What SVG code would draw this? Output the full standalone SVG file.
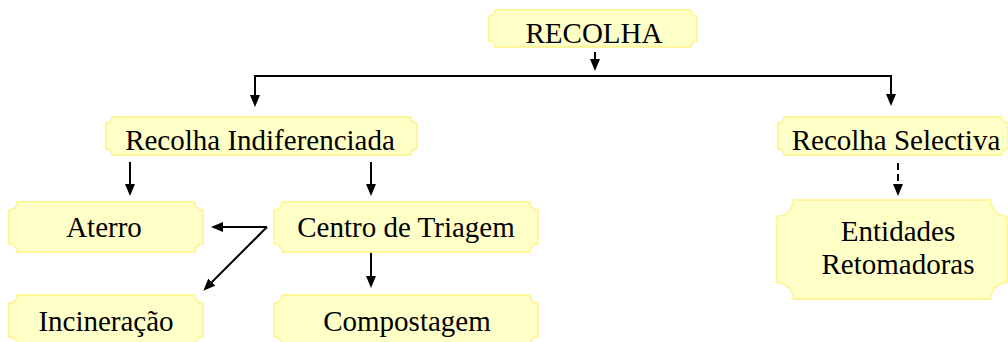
<svg xmlns="http://www.w3.org/2000/svg" width="1008" height="342" viewBox="0 0 1008 342">
<style>
.box{fill:#FFFFC8;stroke:#FFF59A;stroke-width:2}
.t{font-family:"Liberation Serif","Times New Roman","DejaVu Serif",serif;font-size:29px;fill:#000;text-anchor:middle}
.c{fill:none;stroke:#000;stroke-width:2}
</style>
<defs>
<marker id="ah" markerUnits="userSpaceOnUse" markerWidth="12" markerHeight="10" refX="4" refY="5" orient="auto" viewBox="0 0 12 10">
<path d="M0,0 L12,5 L0,10 z" fill="#000"/>
</marker>
</defs>
<rect width="1008" height="342" fill="#fff"/>
<g id="n-recolha">
<path class="box" d="M495.2,10 H690.8 A6.2,6.2 0 0 0 697,16.2 V40.8 A6.2,6.2 0 0 0 690.8,47 H495.2 A6.2,6.2 0 0 0 489,40.8 V16.2 A6.2,6.2 0 0 0 495.2,10 Z"/>
<text class="t" x="594" y="43">RECOLHA</text>
</g>
<g id="n-indif">
<path class="box" d="M112.3,117 H410.7 A6.3,6.3 0 0 0 417,123.3 V148.7 A6.3,6.3 0 0 0 410.7,155 H112.3 A6.3,6.3 0 0 0 106,148.7 V123.3 A6.3,6.3 0 0 0 112.3,117 Z"/>
<text class="t" x="260" y="150">Recolha Indiferenciada</text>
</g>
<g id="n-selectiva">
<path class="box" d="M784.3,117 H1001.7 A6.3,6.3 0 0 0 1008,123.3 V148.7 A6.3,6.3 0 0 0 1001.7,155 H784.3 A6.3,6.3 0 0 0 778,148.7 V123.3 A6.3,6.3 0 0 0 784.3,117 Z"/>
<text class="t" x="896" y="150">Recolha Selectiva</text>
</g>
<g id="n-aterro">
<path class="box" d="M17.3,202 H194.7 A8.3,8.3 0 0 0 203,210.3 V243.7 A8.3,8.3 0 0 0 194.7,252 H17.3 A8.3,8.3 0 0 0 9,243.7 V210.3 A8.3,8.3 0 0 0 17.3,202 Z"/>
<text class="t" x="104" y="237">Aterro</text>
</g>
<g id="n-centro">
<path class="box" d="M282.3,202 H529.7 A8.3,8.3 0 0 0 538,210.3 V243.7 A8.3,8.3 0 0 0 529.7,252 H282.3 A8.3,8.3 0 0 0 274,243.7 V210.3 A8.3,8.3 0 0 0 282.3,202 Z"/>
<text class="t" x="406" y="237">Centro de Triagem</text>
</g>
<g id="n-incineracao">
<path class="box" d="M17.3,295 H194.7 A8.3,8.3 0 0 0 203,303.3 V336.7 A8.3,8.3 0 0 0 194.7,345 H17.3 A8.3,8.3 0 0 0 9,336.7 V303.3 A8.3,8.3 0 0 0 17.3,295 Z"/>
<text class="t" x="106" y="331">Incineração</text>
</g>
<g id="n-compostagem">
<path class="box" d="M282.3,295 H529.7 A8.3,8.3 0 0 0 538,303.3 V336.7 A8.3,8.3 0 0 0 529.7,345 H282.3 A8.3,8.3 0 0 0 274,336.7 V303.3 A8.3,8.3 0 0 0 282.3,295 Z"/>
<text class="t" x="407" y="331">Compostagem</text>
</g>
<g id="n-entidades">
<path class="box" d="M793.5,200 H990.5 A16.5,16.5 0 0 0 1007,216.5 V282.5 A16.5,16.5 0 0 0 990.5,299 H793.5 A16.5,16.5 0 0 0 777,282.5 V216.5 A16.5,16.5 0 0 0 793.5,200 Z"/>
<text class="t" x="898" y="241">Entidades</text>
<text class="t" x="898" y="274">Retomadoras</text>
</g>
<g id="connectors">
<path class="c" d="M595,52 V63" marker-end="url(#ah)"/>
<path class="c" d="M254,76 H892"/>
<path class="c" d="M255,76 V99" marker-end="url(#ah)"/>
<path class="c" d="M891,76 V98" marker-end="url(#ah)"/>
<path class="c" d="M130,162 V188" marker-end="url(#ah)"/>
<path class="c" d="M371,162 V188" marker-end="url(#ah)"/>
<path class="c" d="M371,253 V280" marker-end="url(#ah)"/>
<path class="c" d="M267,227 H219" marker-end="url(#ah)"/>
<path class="c" d="M267,227 L209,285" marker-end="url(#ah)"/>
<path class="c" d="M898,163 V188" stroke-dasharray="7 4" marker-end="url(#ah)"/>
</g>
</svg>
